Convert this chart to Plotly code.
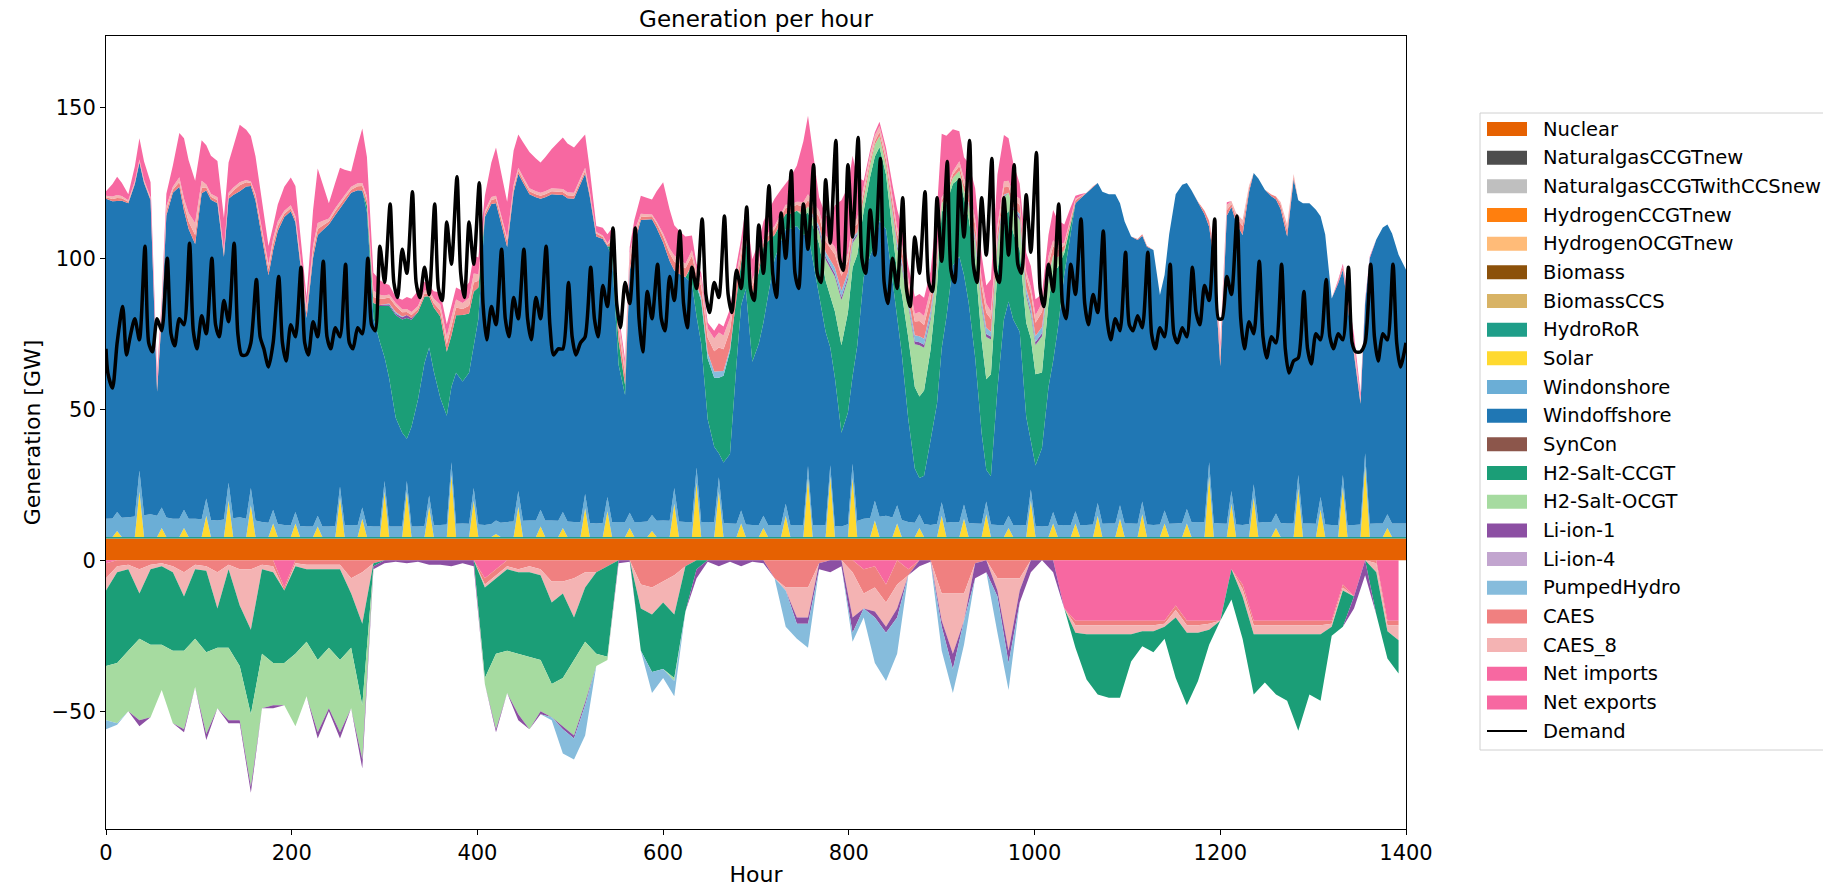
import plotly.graph_objects as go

# ---------------------------------------------------------------- time grids
HOURS_12 = list(range(0, 1393, 12))          # 117 points, every 12 h
HOURS_24 = list(range(0, 1393, 24))          # 59 points, daily
# solar / wind grid: each day at 00h, 07h, 12h (solar noon) and 17h
CORE_HOURS = [24 * d + o for d in range(58) for o in (0, 7, 12, 17)] + [1392, 1400]
# demand grid: night low, morning, midday, evening peak, late evening
DEMAND_HOURS = [0] + [24 * d + o for d in range(58) for o in (2, 7, 12, 18, 22)] + [1394, 1400]

# ---------------------------------------------------------------- generation [GW]
nuclear_hours = [0, 1400]
nuclear = [7.2, 7.2]
hydro_ror = [0.5, 0.5]

# daily solar peak at noon (58 days)
solar_noon = [2, 15, 3, 3, 7, 12, 10.5, 4.5, 4.5, 3.5, 13, 6, 15, 15, 10,
              20.5, 12, 1, 10, 3.5, 3, 9.5, 8.5, 3, 2, 11, 18, 15, 4.5, 3,
              7, 19.5, 20, 19.5, 5.5, 4.5, 3, 7, 6, 7.5, 3, 12, 4.5, 4.5,
              7, 6, 7.5, 4.5, 4.5, 20, 11, 13, 3, 16, 9, 16.5, 23.5, 3]
solar = [v for s in solar_noon for v in (0, 0, s, 0)] + [0, 0]

wind_onshore = [6, 6.5, 7.5, 6, 6, 5.5, 6.5,
                5, 4, 3.5, 3.5, 4, 3.5, 3.5, 3.5,
                4, 4.5, 4, 5, 5.5, 5.5, 5, 4.5, 5, 5, 5.5, 5, 5, 4.5,
                4, 4, 4, 4, 3.5, 6, 7, 5, 4, 5, 4.5, 4, 4, 3.5, 4,
                4, 4.5, 4.5, 4, 4.5, 5, 4.5, 4, 5, 4.5, 4.5, 4, 4, 4.5, 4.5]

wind_offshore = [
    106, 105, 103, 105,   104, 110, 102, 110,   104, 41, 63, 100,   108, 110, 99, 96,
    91, 108, 102, 106,    105, 87, 94, 107,     108, 110, 100, 106, 94, 82, 86, 97,
    102, 104, 96, 88,     69, 89, 93, 98,       100, 103, 92, 107,  110, 111, 105, 104,
    69, 61, 41, 49,       36, 31, 14, 33,       42, 54, 49, 51,     42, 36, 25, 50,
    47, 50, 47, 68,       102, 106, 105, 100,   91, 109, 105, 112,  108, 107, 103, 107,
    108, 108, 105, 107,   107, 112, 106, 108,   95, 94, 83, 88,     52, 42, 80, 92,
    100, 100, 98, 97,     92, 86, 72, 82,       81, 79, 50, 59,     34, 25, 8, 20,
    23, 53, 68, 78,       54, 60, 64, 76,       88, 94, 91, 98,     99, 96, 77, 88,
    76, 64, 39, 49,       31, 37, 29, 58,       80, 87, 85, 98,     95, 78, 62, 55,
    34, 18, 12, 16,       28, 40, 51, 68,       85, 88, 76, 73,     55, 30, 10.5, 16,
    45, 68, 71, 68,       64, 36, 16, 20,       26, 46, 50, 65,     83, 97, 102, 108,
    110, 112, 106, 110,   109, 109, 100, 100,   95, 94, 88, 92,     91, 76, 78, 96,
    109, 112, 108, 110,   106, 102, 78, 87,     52, 102, 94, 100,   96, 110, 103, 114,
    110, 108, 104, 104,   95, 114, 91, 106,     106, 104, 93, 96,   75, 80, 68, 73,
    56, 40, 50, 88,       94, 98, 96, 96,
    89, 84]

# storage / imports, discharge side (12-hourly)
h2_salt_ccgt = [0] * 24 + [5, 17, 34, 40, 29, 17, 27, 17, 22, 18] + [0] * 12 + \
    [8, 0, 0, 0, 0, 0, 0,
     10, 20, 25, 34, 14, 22, 25, 8, 5, 5, 7, 17, 17, 29, 36, 22, 29, 18, 15, 27,
     27, 30, 45, 27, 25, 32, 30, 39, 30, 27, 34, 25, 30, 7] + [0] * 30
h2_salt_ocgt = [0] * 63 + [2, 4, 9, 15, 8, 4, 4, 3, 8, 10, 17, 10, 3, 2, 3, 6,
                           14, 8, 6, 10, 8, 12, 5, 1] + [0] * 30
li_ion_1 = [0] * 25 + [0.5, 0.5, 1] + [0] * 36 + \
    [1, 1, 1, 1, 0, 0, 0, 1, 1, 1, 1, 0, 0, 0, 1, 1, 1, 0, 1, 1, 1] + [0] * 32
pumped_hydro = [0] * 26 + [0.5] + [0] * 26 + [0.5, 2, 2, 1] + [0] * 7 + \
    [1, 2, 2, 1, 0, 0, 0, 1, 2, 2, 2, 0, 0, 0, 1, 2, 1, 0, 1, 2, 2] + [0] * 32
caes = [0.5, 1, 0.5, 0.5, 0.5, 2, 1, 2, 3, 1, 1, 1, 2, 1, 2, 2, 1, 1, 2, 2,
        1, 1.5, 1, 1.5, 2, 2, 2, 1, 1, 1, 2, 3, 2, 3, 1, 1.5, 2, 1, 1, 1,
        1, 1, 1, 1, 1, 0.5, 4, 3, 1, 1, 2, 3, 3, 3, 5, 8, 6, 3, 3, 1.5,
        2, 2, 2, 2, 3, 4, 5, 3, 2, 1, 2, 3, 4, 5, 4, 1, 1, 2, 4, 5,
        3, 2, 3, 4, 5, 3, 1.5, 1, 0, 0, 0, 0, 0, 0.5, 0, 0, 0, 0, 0, 2,
        3, 1, 3, 0, 0, 1, 2, 0, 0, 0, 0, 1, 2, 0, 0, 0, 0]
caes_8 = [0.5, 1, 0.5, 0.5, 0.5, 2, 1, 2, 4, 1, 1, 1, 1, 0.5, 1, 2, 1, 1, 2, 2,
          1, 1, 1, 1, 2, 1, 1, 1, 1, 1, 2, 3, 2, 3, 1, 1, 1, 1, 1, 1,
          1, 1, 1, 1, 0.5, 0.5, 3, 3, 1, 0.5, 1, 2, 1.5, 2, 3, 5, 4, 2, 2, 1,
          1, 1, 1, 2, 2, 2, 3, 2, 2, 2, 2, 2, 2, 3, 3, 1, 1, 2, 2, 3,
          2, 2, 2, 2, 3, 2, 1, 0.5, 0, 0, 0, 0, 0, 0, 0, 0, 0, 0, 0, 0,
          3, 1, 2, 0, 0, 0, 2, 0, 0, 0, 0, 0, 2, 0, 0, 0, 0]
net_imports = [1.5, 6, 2, 7, 5, 2, 7, 20, 14, 13, 12, 10, 19, 15, 9, 4, 8, 10, 3, 18,
               5, 11, 5, 18, 6, 4, 2, 4, 5, 1.5, 4, 4, 4, 6, 5, 16, 12, 11, 12, 10,
               13, 17, 15, 11, 2, 3, 2, 2, 6, 5, 17, 10, 9, 2, 2, 3, 3, 3, 7, 6,
               9, 7, 12, 26, 4.5, 8, 22, 22, 2, 1, 2, 6, 5, 6, 6, 21, 14, 7, 10, 6,
               17, 14, 5, 7, 3, 10, 6, 1, 0, 0, 0, 0, 0, 0, 0, 0, 0, 0, 0, 0,
               2, 0, 0, 0, 0, 0, 0, 0, 0, 0, 0, 1, 3, 1, 0, 0, 0]

# charging / exports side (12-hourly, negative)
net_exports = [-1] + [0] * 15 + [-9] + [0] * 17 + [-6, -3] + [0] * 32 + \
    [-3, -2, -8, 0, -3] + [0] * 13 + \
    [-16, -20, -20, -20, -20, -20, -20, -20, -20, -20, -15, -20, -20, -20, -20,
     -3, -8, -20, -20, -20, -20, -20, -20, -20, -20, -8, -12, 0, 0, -20, -20, -20]
caes_charge = [-5, -2, -1.5, -3, -1.5, -1, -2, -4, -1.5, -2, -4, -1.5, -3, -3, -1.5, -2,
               -1, -1, -1.5, -1.5, -1.5, -1.5, -6, -4, -1] + [0] * 9 + \
    [-2, -2, -2, -3, -2, -3, -7, -7, -6, -4, -4, -2, 0, 0, -8, -9, -7, -5, -2, 0,
     0, 0, 0, 0, 0, 0, -6, -9, -9, -9, -1, 0, 0, -4, -8, -7, -6, -8, -2, 0,
     0, -11, -11, -11, -1, 0, -6, -6, -6, 0, 0, 0, 0,
     -1.5, -1.5, -1.5, -1.5, -1.5, -1.5, -1.5, -1.5, -1, -1.5, -1.5, -1.5, -1,
     0, 0, -1.5, -1.5, -1.5, -1.5, -1.5, -1.5, -1.5, -1.5, -1, -1, 0, 0, -1, -1.5, -1.5]
caes_8_charge = [-4, -2, -1.5, -8, -1.5, -1, -2, -8, -1.5, -1.5, -12, -1.5, -12, -20, -1.5,
                 -2, 0, -1, -1.5, -1.5, -1.5, -1.5, -5, -17, 0] + [0] * 9 + \
    [-1, -1, -1, -1, -2, -2, -7, -4, -13, -5, 0, 0, 0, 0, -8, -9, -7, -13, 0, 0,
     0, 0, 0, 0, 0, 0, 0, -1, -10, -10, 0, 0, 0, -15, -5, -8, -8, -8, 0, 0,
     0, -9, -20, -9, 0, 0, -4, -24, -4, 0, 0, 0, 0,
     -2.5, -3, -3, -3, -3, -3, -2, -2, -1, -2.5, -2.5, -2.5, -2,
     0, 0, -2.5, -3, -3, -3, -3, -3, -3, -3, -1, -1, 0, 0, -3, -2, -5]
h2_salt_ccgt_charge = [-25, -30, -27, -15, -25, -26, -26, -18, -23, -27, -13, -26, -20, -28,
                       -28, -30, -24, -29, -24, -30, -26, -30, -18, -27, -1] + [0] * 9 + \
    [-30, -25, -27, -27, -28, -28, -27, -28, -14, -18, -27, -30, 0, 0,
     -14, -19, -22, -21, -15, -3] + [0] * 33 + \
    [-5, -15, -20, -21, -21, -9, -5, -7, -4, -20, -24, -16, -5, 0, -10, -14, -20,
     -16, -20, -22, -32, -20, -22, -3, -12, 0, 0, -14, -9, -11]
h2_salt_ocgt_charge = [-18, -20, -20, -27, -24, -15, -24, -26, -16, -27, -20, -24, -18, -24,
                       -18, -14, -14, -24, -18, -24, -20, -24, -20, -18, 0] + [0] * 9 + \
    [-2, -25, -14, -20, -24, -17, -11, -16, -25, -20, -4, -1, 0, 0, 0, 0, 0, -1] + [0] * 65
li_ion_1_charge = [0, 0, 0, -2, 0, 0, 0, -1, 0, -2, 0, -1, -1, -2, 0, -1, 0, 0, 0, -2,
                   -1, -2, 0, -3, -1, -1, -0.5, -1, -0.5, -1.5, -1.5, -2, -1, -2, 0, -1, 0, -2, 0, -1,
                   0, -1, -1, -1, 0, 0, -1, -0.5, 0, 0, 0, 0, 0, -3, -0.5, -2, -0.5, -2, -0.5, -1,
                   0, 0, -2, -2, -2, -4, -2, -5, 0, -2, -2, -3, 0, -2, -0.5, -2, -5, 0, -5, -4,
                   -2, -4, -4, -4, 0, -4, 0, 0, 0, 0, 0, 0, 0, 0, 0, 0, 0, 0, 0, 0,
                   0, 0, 0, 0, 0, 0, 0, 0, 0, 0, 0, 0, -4, -5, 0, 0, 0]
pumped_hydro_charge = [-3, -0.5] + [0] * 38 + [-1, -8, -7, -10] + [0] * 5 + [-7, -3, -5] + \
    [0] * 9 + [-12, -5, -8] + [0] * 3 + [-3, -3, -15, -16, -12] + [0] * 3 + \
    [-8, -8, -8, 0, 0, -12, -9] + [0] * 35

# electricity demand [GW]
demand = [70,
          62, 57, 72, 84, 68,     74, 80, 73, 104, 72,    69, 80, 76, 100, 75,
          71, 80, 78, 105, 76,    70, 81, 75, 100, 78,    74, 86, 79, 105, 75,
          68, 68, 72, 93, 74,     70, 64, 72, 94, 72,     66, 78, 74, 97, 72,
          68, 79, 74, 99, 74,     70, 77, 74, 98, 72,     70, 77, 75, 100, 78,
          76, 104, 92, 118, 92,   87, 103, 95, 122, 92,   87, 97, 88, 118, 90,
          86, 112, 98, 127, 95,   87, 112, 98, 125, 85,   73, 84, 78, 103, 80,
          74, 87, 80, 103, 80,    73, 87, 80, 104, 78,    68, 70, 70, 92, 74,
          68, 72, 74, 97, 80,     74, 91, 84, 110, 85,    77, 92, 85, 110, 80,
          69, 89, 80, 98, 80,     76, 94, 86, 109, 85,    77, 97, 90, 113, 88,
          82, 92, 87, 114, 88,    82, 96, 90, 117, 90,    86, 111, 95, 124, 95,
          87, 115, 100, 129, 95,  90, 118, 103, 131, 95,  92, 126, 105, 139, 100,
          96, 131, 107, 140, 100, 95, 116, 101, 133, 92,  85, 100, 90, 120, 90,
          84, 107, 95, 122, 92,   89, 120, 99, 132, 96,   92, 126, 107, 139, 98,
          92, 120, 101, 133, 96,  92, 120, 101, 131, 98,  95, 121, 102, 135, 90,
          84, 98, 89, 118, 85,    80, 98, 88, 113, 85,    78, 88, 82, 109, 80,
          73, 80, 76, 102, 78,    76, 81, 77, 102, 75,    70, 77, 74, 98, 75,
          72, 77, 74, 97, 82,     78, 91, 86, 113, 80,    80, 94, 88, 114, 80,
          70, 79, 75, 99, 74,     67, 74, 72, 98, 70,     62, 66, 67, 89, 70,
          65, 75, 73, 93, 74,     70, 75, 73, 97, 72,     69, 69, 72, 98, 74,
          66, 75, 73, 98, 72,
          64, 72]

# ---------------------------------------------------------------- colours
COLORS = {
    "Nuclear": "#e66101",
    "NaturalgasCCGTnew": "#4d4d4d",
    "NaturalgasCCGTwithCCSnew": "#bfbfbf",
    "HydrogenCCGTnew": "#ff7f0e",
    "HydrogenOCGTnew": "#ffbb78",
    "Biomass": "#8c510a",
    "BiomassCCS": "#d8b365",
    "HydroRoR": "#1f9e89",
    "Solar": "#ffd92f",
    "Windonshore": "#6baed6",
    "Windoffshore": "#2077b4",
    "SynCon": "#8c564b",
    "H2-Salt-CCGT": "#1b9e77",
    "H2-Salt-OCGT": "#a6dba0",
    "Li-ion-1": "#8c4fa3",
    "Li-ion-4": "#c2a5cf",
    "PumpedHydro": "#86bcdc",
    "CAES": "#f08080",
    "CAES_8": "#f4b3b3",
    "Net imports": "#f768a1",
    "Net exports": "#f768a1",
}

# positive side, bottom to top
supply = [
    ("Nuclear", nuclear_hours, nuclear),
    ("NaturalgasCCGTnew", nuclear_hours, [0, 0]),
    ("NaturalgasCCGTwithCCSnew", nuclear_hours, [0, 0]),
    ("HydrogenCCGTnew", nuclear_hours, [0, 0]),
    ("HydrogenOCGTnew", nuclear_hours, [0, 0]),
    ("Biomass", nuclear_hours, [0, 0]),
    ("BiomassCCS", nuclear_hours, [0, 0]),
    ("HydroRoR", nuclear_hours, hydro_ror),
    ("Solar", CORE_HOURS, solar),
    ("Windonshore", HOURS_24, wind_onshore),
    ("Windoffshore", CORE_HOURS, wind_offshore),
    ("SynCon", nuclear_hours, [0, 0]),
    ("H2-Salt-CCGT", HOURS_12, h2_salt_ccgt),
    ("H2-Salt-OCGT", HOURS_12, h2_salt_ocgt),
    ("Li-ion-1", HOURS_12, li_ion_1),
    ("Li-ion-4", nuclear_hours, [0, 0]),
    ("PumpedHydro", HOURS_12, pumped_hydro),
    ("CAES", HOURS_12, caes),
    ("CAES_8", HOURS_12, caes_8),
    ("Net imports", HOURS_12, net_imports),
]
# negative side, from zero downwards
uptake = [
    ("Net exports", HOURS_12, net_exports),
    ("CAES", HOURS_12, caes_charge),
    ("CAES_8", HOURS_12, caes_8_charge),
    ("H2-Salt-CCGT", HOURS_12, h2_salt_ccgt_charge),
    ("H2-Salt-OCGT", HOURS_12, h2_salt_ocgt_charge),
    ("Li-ion-1", HOURS_12, li_ion_1_charge),
    ("PumpedHydro", HOURS_12, pumped_hydro_charge),
]

fig = go.Figure()
for group, series in (("supply", supply), ("uptake", uptake)):
    for k, (name, xs, ys) in enumerate(series):
        fig.add_trace(go.Scatter(
            x=xs, y=ys, name=name, stackgroup=group, mode="lines",
            stackgaps="interpolate" if k == 0 else None,
            line=dict(width=0, color=COLORS[name]), fillcolor=COLORS[name],
            showlegend=False, hoverinfo="skip"))

fig.add_trace(go.Scatter(x=DEMAND_HOURS, y=demand, name="Demand", mode="lines",
                         line=dict(color="black", width=3.5, shape="spline", smoothing=0.7),
                         showlegend=False))

# ---------------------------------------------------------------- legend box
legend_names = [n for n, _, _ in supply] + ["Net exports", "Demand"]
PLOT_L, PLOT_W, PLOT_B, PLOT_H = 106, 1300, 829, 793


def px_x(p):
    return (p - PLOT_L) / PLOT_W


def px_y(p):
    return (PLOT_B - p) / PLOT_H


shapes = [dict(type="rect", xref="paper", yref="paper",
               x0=px_x(1480), x1=px_x(1840), y0=px_y(750), y1=px_y(113),
               line=dict(color="#d0d0d0", width=1), fillcolor="white", layer="above")]
annotations = []
for k, name in enumerate(legend_names):
    yc = 129 + 28.67 * k
    if name == "Demand":
        shapes.append(dict(type="line", xref="paper", yref="paper",
                           x0=px_x(1487), x1=px_x(1527), y0=px_y(yc), y1=px_y(yc),
                           line=dict(color="black", width=2), layer="above"))
    else:
        shapes.append(dict(type="rect", xref="paper", yref="paper",
                           x0=px_x(1487), x1=px_x(1527), y0=px_y(yc + 7), y1=px_y(yc - 7),
                           line=dict(width=0), fillcolor=COLORS[name], layer="above"))
    annotations.append(dict(text=name, xref="paper", yref="paper", x=px_x(1541), y=px_y(yc),
                            xanchor="left", yanchor="middle", showarrow=False,
                            font=dict(family="DejaVu Sans", size=19.5, color="black")))

axis_common = dict(showline=True, mirror=True, linecolor="black", linewidth=1,
                   ticks="outside", ticklen=5, tickcolor="black", showgrid=False,
                   zeroline=False, tickfont=dict(size=21), automargin=False)

fig.update_layout(
    width=1823, height=887,
    margin=dict(l=PLOT_L, r=1823 - PLOT_L - PLOT_W, t=36, b=887 - PLOT_B),
    paper_bgcolor="white", plot_bgcolor="white",
    font=dict(family="DejaVu Sans", size=20, color="black"),
    title=dict(text="Generation per hour", x=0.5, xref="paper", xanchor="center",
               y=1 - 19 / 887, yref="container", yanchor="middle", font=dict(size=23),
               automargin=False),
    xaxis=dict(range=[0, 1400], tickvals=list(range(0, 1401, 200)),
               title=dict(text="Hour", font=dict(size=22), standoff=4), **axis_common),
    yaxis=dict(range=[-89, 173.6], tickvals=[-50, 0, 50, 100, 150],
               title=dict(text="Generation [GW]", font=dict(size=22), standoff=4), **axis_common),
    shapes=shapes, annotations=annotations, showlegend=False,
)

fig.write_html("out.html")
